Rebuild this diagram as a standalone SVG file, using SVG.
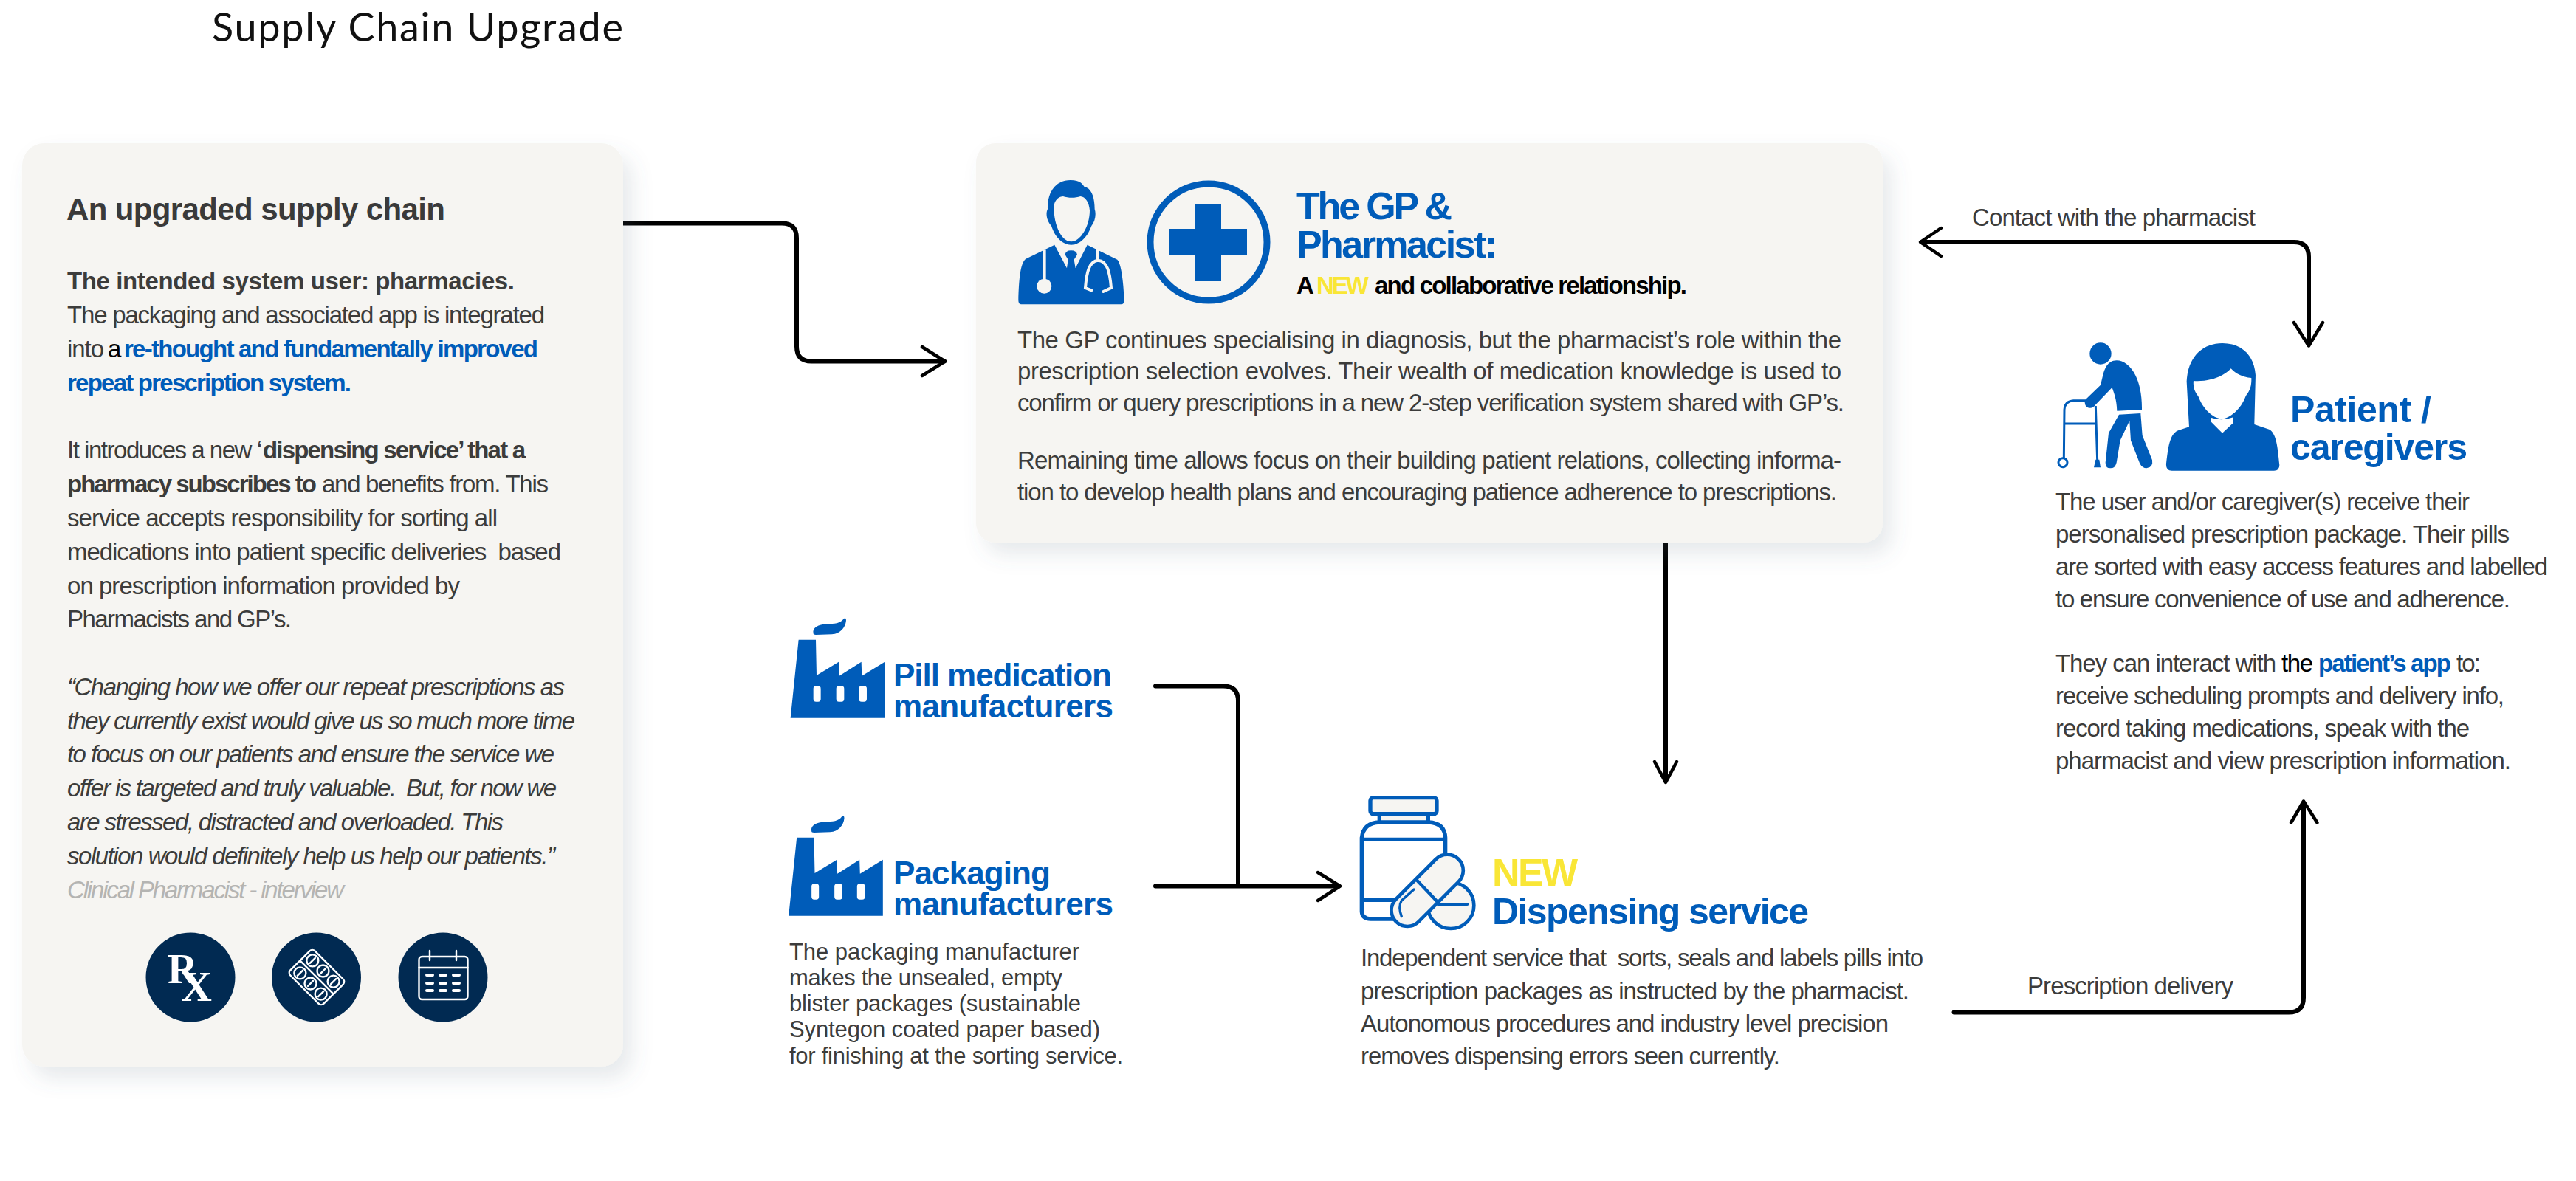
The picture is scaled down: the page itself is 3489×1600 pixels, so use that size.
<svg xmlns="http://www.w3.org/2000/svg" width="3489" height="1600" viewBox="0 0 3489 1600">
<style>
text{font-family:"Liberation Sans",Arial,sans-serif;white-space:pre}
.b{font-size:33px;fill:#3c3c3b}
.s{font-size:31px;fill:#3c3c3b}
.B{font-weight:700}
.k{fill:#000}
.blue{fill:#005cb9}
.i{font-style:italic}
.yel{fill:#f9e636}
.h{font-weight:700;fill:#005cb9}
.ic{fill:#005cb9}
.bgf{fill:#f6f5f2}
.card{fill:#f6f5f2;filter:url(#sh)}
.cn{fill:none;stroke:#000;stroke-width:6;stroke-linecap:round;stroke-linejoin:round}
.hd{fill:none;stroke:#000;stroke-width:4.5;stroke-linecap:round;stroke-linejoin:round}
.wl{fill:none;stroke:#fff;stroke-width:2.4;stroke-linecap:round}
.navy{fill:#012a52}
.bo{fill:none;stroke:#005cb9;stroke-width:16;stroke-linecap:round}
</style>
<defs>
<filter id="sh" x="-10%" y="-10%" width="125%" height="125%"><feDropShadow dx="12" dy="16" stdDeviation="14" flood-color="#5a6a80" flood-opacity="0.15"/></filter>
<g id="factory"><path class="ic" d="M155,115C150,90 175,78 210,76C240,75 265,75 278,55Q288,48 288,62C285,90 265,115 230,118L165,120Q155,120 155,115Z"/><path class="ic" d="M95,140L165,140L168,285L258,230L260,287L350,230L352,287L445,230L445,458L62,458Z"/><g fill="#fff"><rect x="155" y="328" width="30" height="64" rx="11"/><rect x="248" y="328" width="32" height="64" rx="11"/><rect x="340" y="328" width="32" height="64" rx="11"/></g></g>
</defs>
<rect width="3489" height="1600" fill="#fff"/>
<g id="title"><text x="287" y="56" font-size="54" textLength="557" style="font-family:Lato,sans-serif" fill="#111">Supply Chain Upgrade</text></g>

<g id="connectors">
<path class="cn" d="M844,302.500H1059Q1079,302.500 1079,322.500V469.500Q1079,489.500 1099,489.500H1279"/>
<path class="hd" d="M1249,470L1280,489.500L1249,509"/>
<path class="cn" d="M1565,929.500H1657Q1677,929.500 1677,949.500V1200"/>
<path class="cn" d="M1565,1200.500H1813"/>
<path class="hd" d="M1785,1182L1815,1200.500L1785,1220"/>
<path class="cn" d="M2256,735V1058"/>
<path class="hd" d="M2241,1032L2256,1060L2271,1032"/>
<path class="cn" d="M2603,328H3107Q3127,328 3127,348V466"/>
<path class="hd" d="M2629,309L2601,328L2629,347"/>
<path class="hd" d="M3107,437L3127,468.500L3146,437"/>
<path class="cn" d="M2646.500,1371.500H3100Q3120,1371.500 3120,1351.500V1088"/>
<path class="hd" d="M3103,1114.500L3120,1085.500L3138.500,1114.500"/>
<text class="b" x="2671" y="306" textLength="384">Contact with the pharmacist</text>
<text class="b" x="2746" y="1346.500" textLength="279">Prescription delivery</text>
</g>

<g id="node-upgraded-supply-chain">
<rect class="card" x="30" y="194" width="814" height="1251" rx="30"/>
<text x="90" y="298" font-size="42" font-weight="700" fill="#3a3a3a" textLength="513">An upgraded supply chain</text>
<text class="b B" x="91" y="392" textLength="606">The intended system user: pharmacies.</text>
<text class="b" x="91" y="438" textLength="647">The packaging and associated app is integrated</text>
<text class="b" x="91" y="484"><tspan textLength="50">into</tspan><tspan class="k" x="146" textLength="17">a</tspan><tspan class="B blue" x="168" textLength="561">re-thought and fundamentally improved</tspan></text>
<text class="b B blue" x="91" y="530" textLength="385">repeat prescription system.</text>
<text class="b" x="91" y="621"><tspan textLength="264">It introduces a new ‘</tspan><tspan class="B" x="356" textLength="356">dispensing service’ that a</tspan></text>
<text class="b" x="91" y="667"><tspan class="B" textLength="338">pharmacy subscribes to</tspan><tspan x="436" textLength="307">and benefits from. This</tspan></text>
<text class="b" x="91" y="713" textLength="583">service accepts responsibility for sorting all</text>
<text class="b" x="91" y="759" textLength="669">medications into patient specific deliveries  based</text>
<text class="b" x="91" y="805" textLength="532">on prescription information provided by</text>
<text class="b" x="91" y="850" textLength="304">Pharmacists and GP’s.</text>
<text class="b i" x="91" y="942" textLength="674">“Changing how we offer our repeat prescriptions as</text>
<text class="b i" x="91" y="987.500" textLength="688">they currently exist would give us so much more time</text>
<text class="b i" x="91" y="1033" textLength="660">to focus on our patients and ensure the service we</text>
<text class="b i" x="91" y="1079" textLength="663">offer is targeted and truly valuable.  But, for now we</text>
<text class="b i" x="91" y="1124.500" textLength="591">are stressed, distracted and overloaded. This</text>
<text class="b i" x="91" y="1170.500" textLength="661">solution would definitely help us help our patients.”</text>
<text class="b i" x="91" y="1217" textLength="375" style="fill:#b4b4b2">Clinical Pharmacist - interview</text>
<circle class="navy" cx="258" cy="1324" r="60.500"/>
<text x="227" y="1332" font-size="56" font-weight="700" fill="#fff" style="font-family:'Liberation Serif',serif">R</text>
<text x="245" y="1356" font-size="58" font-weight="700" fill="#fff" style="font-family:'Liberation Serif',serif">X</text>
<circle class="navy" cx="428.500" cy="1324" r="60.500"/>
<g transform="translate(429,1324) rotate(45)">
<rect class="wl" x="-32" y="-23.500" width="64" height="47" rx="5"/>
<path class="wl" d="M-32,0H32"/>
<g id="blister-pills" class="wl"><circle cx="-20" cy="-12" r="8"/><circle cx="0" cy="-12" r="8"/><circle cx="20" cy="-12" r="8"/><circle cx="-20" cy="12" r="8"/><circle cx="0" cy="12" r="8"/><circle cx="20" cy="12" r="8"/>
<path d="M-20,-17V-7M0,-17V-7M20,-17V-7M-20,7V17M0,7V17M20,7V17"/></g>
</g>
<circle class="navy" cx="600" cy="1324" r="60.500"/>
<g class="wl"><rect x="567.500" y="1296" width="66" height="58" rx="4"/><path d="M567.500,1311H633.500M582,1288V1301M618,1288V1301"/>
<path d="M578,1321H586M596,1321H604M614,1321H622M578,1332H586M596,1332H604M614,1332H622M578,1342H586M596,1342H604M614,1342H622" style="stroke-width:4"/></g>
</g>

<g id="node-gp-pharmacist">
<rect class="card" x="1322" y="194" width="1228" height="541" rx="26"/>
<g transform="translate(1350,220) scale(0.3333)">
<path class="ic" fill-rule="evenodd" d="M300,72C340,72 350,90 355,98C385,105 398,140 398,190C405,210 400,240 385,258C370,300 340,335 303,335C265,335 235,300 222,258C205,240 197,210 207,190C205,120 240,72 300,72ZM232,180C232,260 265,322 303,322C340,322 378,260 378,195C375,160 360,140 340,138C320,145 290,145 270,138C255,138 235,150 232,180Z"/>
<path class="ic" d="M100,577Q88,577 88,560C90,480 95,410 118,392L235,335L285,430L290,395L278,375Q280,358 302,358Q325,358 327,375L314,395L320,430L368,335L490,395C505,410 515,480 518,560Q518,577 505,577Z"/>
<g class="bgf"><circle cx="193" cy="503" r="30"/></g>
<path fill="none" stroke="#f6f5f2" stroke-width="14" d="M193,355V480M410,352V395"/>
<path fill="none" stroke="#f6f5f2" stroke-width="12" stroke-linecap="round" d="M385,520L360,510C365,450 375,400 412,398C450,400 460,450 465,510L433,525"/>
</g>
<circle cx="1637" cy="328" r="79" fill="none" stroke="#005cb9" stroke-width="9"/>
<path class="ic" d="M1619,276H1654V310H1689V346H1654V381H1619V346H1584V310H1619Z"/>
<text class="h" x="1756" y="296.500" font-size="52" textLength="211">The GP &amp;</text>
<text class="h" x="1756" y="349" font-size="52" textLength="272">Pharmacist:</text>
<text x="1756" y="397.500" font-size="33" font-weight="700"><tspan class="k">A</tspan><tspan class="yel" x="1783" textLength="71">NEW</tspan><tspan class="k" x="1862" textLength="423">and collaborative relationship.</tspan></text>
<text class="b" x="1378" y="471.500" textLength="1116">The GP continues specialising in diagnosis, but the pharmacist’s role within the</text>
<text class="b" x="1378" y="514" textLength="1116">prescription selection evolves. Their wealth of medication knowledge is used to</text>
<text class="b" x="1378" y="556.500" textLength="1120">confirm or query prescriptions in a new 2-step verification system shared with GP’s.</text>
<text class="b" x="1378" y="635" textLength="1116">Remaining time allows focus on their building patient relations, collecting informa-</text>
<text class="b" x="1378" y="677.500" textLength="1110">tion to develop health plans and encouraging patience adherence to prescriptions.</text>
</g>

<g id="node-pill-manufacturers">
<use href="#factory" transform="translate(1050,820) scale(0.3333)"/>
<text class="h" x="1210" y="930" font-size="44" textLength="296">Pill medication</text>
<text class="h" x="1210" y="972" font-size="44" textLength="298">manufacturers</text>
</g>

<g id="node-packaging-manufacturers">
<use href="#factory" transform="translate(1047.500,1088) scale(0.3333)"/>
<text class="h" x="1210" y="1198" font-size="44" textLength="213">Packaging</text>
<text class="h" x="1210" y="1240" font-size="44" textLength="298">manufacturers</text>
<text class="s" x="1069" y="1300" textLength="393">The packaging manufacturer</text>
<text class="s" x="1069" y="1335" textLength="370">makes the unsealed, empty</text>
<text class="s" x="1069" y="1370" textLength="395">blister packages (sustainable</text>
<text class="s" x="1069" y="1405" textLength="421">Syntegon coated paper based)</text>
<text class="s" x="1069" y="1441" textLength="452">for finishing at the sorting service.</text>
</g>

<g id="node-dispensing-service">
<g transform="translate(1820,1060) scale(0.3333)">
<path class="bo" d="M145,135V160M343,135V160"/>
<rect x="108" y="62" width="270" height="66" rx="12" fill="#f6f5f2" stroke="#005cb9" stroke-width="16"/>
<rect x="152" y="136" width="184" height="20" fill="#f6f5f2"/>
<path class="bo" d="M413,300V225Q410,165 345,162H145Q80,165 73,225V525Q75,555 110,555H200M73,232H413M73,478H205"/>
<circle cx="435" cy="500" r="94" fill="#f6f5f2" stroke="#005cb9" stroke-width="14"/>
<path class="bo" d="M385,495H502" style="stroke-width:12"/>
<rect x="160" y="374" width="359" height="130" rx="65" transform="rotate(-45 339.500 439)" fill="#f6f5f2" stroke="#005cb9" stroke-width="14"/>
<path class="bo" d="M295,395L385,490" style="stroke-width:13"/>
<path class="bo" d="M285,435L235,480Q220,505 235,545" style="stroke-width:10"/>
</g>
<text x="2021" y="1200" font-size="52" font-weight="700" class="yel" textLength="116">NEW</text>
<text class="h" x="2021" y="1252" font-size="50" textLength="429">Dispensing service</text>
<text class="b" x="1843" y="1309" textLength="762">Independent service that  sorts, seals and labels pills into</text>
<text class="b" x="1843" y="1354" textLength="743">prescription packages as instructed by the pharmacist.</text>
<text class="b" x="1843" y="1398" textLength="715">Autonomous procedures and industry level precision</text>
<text class="b" x="1843" y="1442" textLength="568">removes dispensing errors seen currently.</text>
</g>

<g id="node-patient-caregivers">
<g transform="translate(2770,440) scale(0.3333)">
<circle class="ic" cx="225" cy="117" r="44"/>
<path class="ic" d="M290,145C340,145 395,210 393,345L292,350C290,300 280,280 272,255L205,325Q190,345 170,335Q155,320 165,303L225,245C235,210 240,145 290,145Z"/>
<path class="ic" d="M300,365L388,360L395,450L435,550Q440,580 412,583Q395,583 385,565L348,470L343,390L305,470L290,560Q285,583 265,583Q245,583 245,560L258,440Z"/>
<path fill="none" stroke="#005cb9" stroke-width="9" d="M205,330L212,550M76,540L78,345Q80,310 115,308H165M80,402H205"/>
<circle cx="72" cy="560" r="18" fill="#fff" stroke="#005cb9" stroke-width="9"/>
<path class="ic" d="M205,548H220L225,580H198Z"/>
<path class="ic" d="M720,75C800,75 850,125 855,205L850,405L910,425C940,440 945,500 952,570Q952,593 930,593H515Q490,593 492,565C500,500 505,445 540,430L585,415L575,230C580,130 640,75 720,75Z"/>
<path fill="#fff" d="M603,228C660,232 720,215 755,178C775,200 800,212 838,216C840,260 825,275 815,290C795,345 750,380 718,382C680,380 640,340 622,290C610,275 600,255 603,228Z"/>
<path fill="#fff" d="M675,378Q720,392 765,376V398L720,440L675,395Z"/>
</g>
<text class="h" x="3102" y="572" font-size="50" textLength="191">Patient /</text>
<text class="h" x="3102" y="623" font-size="50" textLength="240">caregivers</text>
<text class="b" x="2784" y="691" textLength="561">The user and/or caregiver(s) receive their</text>
<text class="b" x="2784" y="735" textLength="615">personalised prescription package. Their pills</text>
<text class="b" x="2784" y="779" textLength="667">are sorted with easy access features and labelled</text>
<text class="b" x="2784" y="823" textLength="616">to ensure convenience of use and adherence.</text>
<text class="b" x="2784" y="910"><tspan textLength="299">They can interact with</tspan><tspan class="k" x="3090" textLength="43">the</tspan><tspan class="B blue" x="3140" textLength="180">patient’s app</tspan><tspan x="3327" textLength="33">to:</tspan></text>
<text class="b" x="2784" y="953.500" textLength="608">receive scheduling prompts and delivery info,</text>
<text class="b" x="2784" y="998" textLength="561">record taking medications, speak with the</text>
<text class="b" x="2784" y="1041.500" textLength="617">pharmacist and view prescription information.</text>
</g>
</svg>
